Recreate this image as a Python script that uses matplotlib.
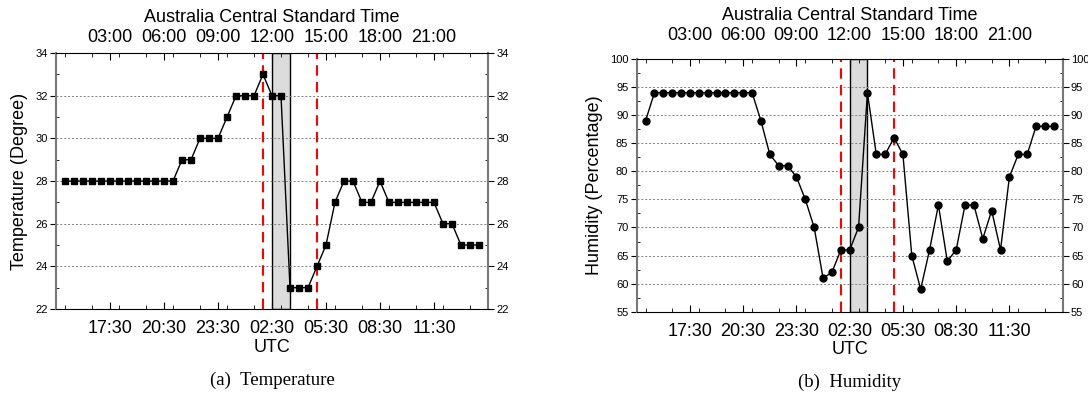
import matplotlib.pyplot as plt
from matplotlib.ticker import MultipleLocator

plt.rcParams['font.family'] = ['Liberation Sans', 'DejaVu Sans']

# half-hourly samples (UTC), starting 15:00 day 1
utc_times = [
    "15:00", "15:30", "16:00", "16:30", "17:00", "17:30", "18:00", "18:30",
    "19:00", "19:30", "20:00", "20:30", "21:00", "21:30", "22:00", "22:30",
    "23:00", "23:30", "00:00", "00:30", "01:00", "01:30", "02:00", "02:30",
    "03:00", "03:30", "04:00", "04:30", "05:00", "05:30", "06:00", "06:30",
    "07:00", "07:30", "08:00", "08:30", "09:00", "09:30", "10:00", "10:30",
    "11:00", "11:30", "12:00", "12:30", "13:00", "13:30", "14:00",
]

temperature = [
    28, 28, 28, 28, 28, 28, 28, 28, 28, 28, 28, 28, 28, 29, 29, 30,
    30, 30, 31, 32, 32, 32, 33, 32, 32, 23, 23, 23, 24, 25, 27, 28,
    28, 27, 27, 28, 27, 27, 27, 27, 27, 27, 26, 26, 25, 25, 25,
]

humidity = [
    89, 94, 94, 94, 94, 94, 94, 94, 94, 94, 94, 94, 94, 89, 83, 81,
    81, 79, 75, 70, 61, 62, 66, 66, 70, 94, 83, 83, 86, 83, 65, 59,
    66, 74, 64, 66, 74, 74, 68, 73, 66, 79, 83, 83, 88, 88, 88,
]

utc_labels = ["17:30", "20:30", "23:30", "02:30", "05:30", "08:30", "11:30"]
acst_labels = ["03:00", "06:00", "09:00", "12:00", "15:00", "18:00", "21:00"]

shade_span = ("02:30", "03:30")
event_lines = ["02:00", "05:00"]


def to_hours(t):
    # hours since 00:00 UTC of the first day (the window starts at 14:30)
    h, m = t.split(":")
    v = int(h) + int(m) / 60
    if v <= 14.5:
        v += 24
    return v


x = [to_hours(t) for t in utc_times]
tick_pos = [to_hours(t) for t in utc_labels]

fig = plt.figure(figsize=(10.88, 3.98), dpi=100)

panels = [
    dict(rect=[0.0515, 0.2236, 0.397, 0.643], y=temperature, marker="s", ms=4.5,
         ylim=(22, 34), major=2, minor=1, ylabel="Temperature (Degree)",
         caption="(a)  Temperature", top_pad=5),
    dict(rect=[0.5852, 0.2168, 0.3915, 0.635], y=humidity, marker="o", ms=5,
         ylim=(55, 100), major=5, minor=2.5, ylabel="Humidity (Percentage)",
         caption="(b)  Humidity", top_pad=11),
]

for p in panels:
    ax = fig.add_axes(p["rect"])

    ax.axvspan(to_hours(shade_span[0]), to_hours(shade_span[1]),
               facecolor="#dcdcdc", edgecolor="black", lw=1, zorder=1)
    for t in event_lines:
        ax.axvline(to_hours(t), color="red", ls=(0, (5, 3)), lw=1.5, zorder=2)

    ax.plot(x, p["y"], color="black", lw=1, marker=p["marker"],
            ms=p["ms"], zorder=3)

    ax.set_xlim(14.5, 38.5)
    ax.set_ylim(*p["ylim"])
    ax.yaxis.set_major_locator(MultipleLocator(p["major"]))
    ax.yaxis.set_minor_locator(MultipleLocator(p["minor"]))
    ax.set_xticks(tick_pos, labels=utc_labels, fontsize=13)
    ax.xaxis.set_minor_locator(MultipleLocator(1.5))

    ax.grid(axis="y", which="major", color="grey", ls=(0, (2, 2)), lw=0.7)

    ax.tick_params(axis="x", which="both", direction="in", top=True, pad=8)
    ax.tick_params(axis="x", which="major", length=5)
    ax.tick_params(axis="x", which="minor", length=3)
    ax.tick_params(axis="y", which="major", direction="out", length=4,
                   right=True, labelright=True, labelsize=8, pad=2)
    ax.tick_params(axis="y", which="minor", direction="in", length=2,
                   right=True)

    for side in ("left", "right"):
        ax.spines[side].set_color("#777777")
        ax.spines[side].set_linewidth(1.5)

    ax.set_xlabel("UTC", fontsize=13, labelpad=1)
    ax.set_ylabel(p["ylabel"], fontsize=13, labelpad=5)

    top = ax.secondary_xaxis("top")
    top.set_xticks(tick_pos, labels=acst_labels, fontsize=13)
    top.tick_params(length=0, pad=p["top_pad"])
    top.spines["top"].set_visible(False)
    top.set_xlabel("Australia Central Standard Time", fontsize=13, labelpad=5)

    ax.text(0.5, -0.28, p["caption"], transform=ax.transAxes, ha="center",
            va="center", fontsize=13.5,
            family=["Liberation Serif", "DejaVu Serif"])

fig.savefig("out.png", dpi=100)
